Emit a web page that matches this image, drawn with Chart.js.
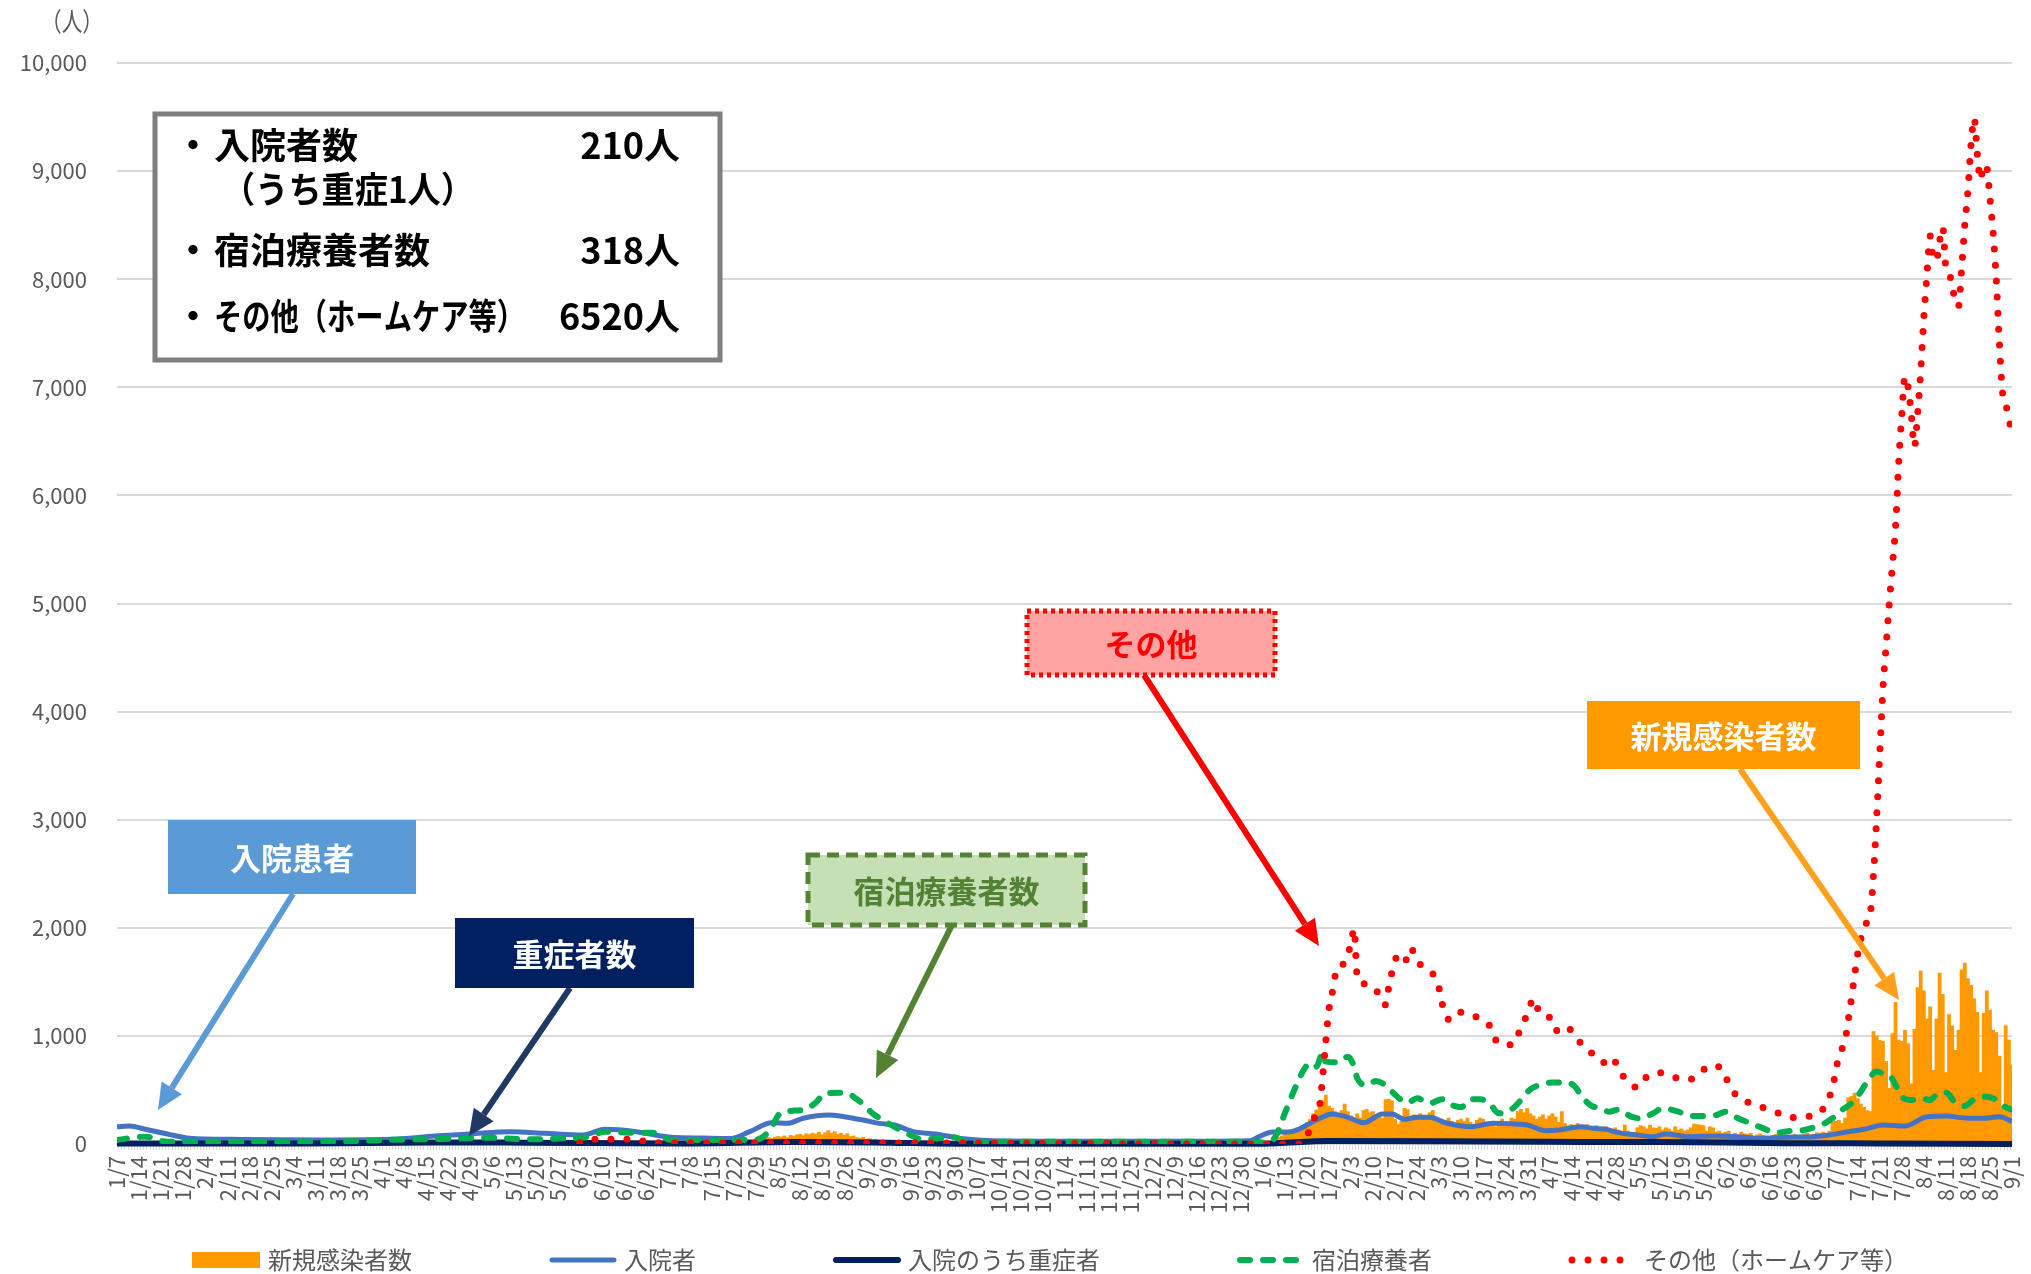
<!DOCTYPE html>
<html lang="ja">
<head>
<meta charset="utf-8">
<title>療養者数の推移</title>
<script src="https://cdn.jsdelivr.net/npm/chart.js@4.4.1/dist/chart.umd.min.js"></script>
<style>
  html, body { margin: 0; padding: 0; background: #fff; }
  #wrap { width: 2031px; height: 1274px; position: relative; }
</style>
</head>
<body>
<div id="wrap"><canvas id="chart"></canvas></div>
<script>
// 横軸の目盛りラベル（7日ごと、1/7 = 0日目）
const weekLabels = ['1/7','1/14','1/21','1/28','2/4','2/11','2/18','2/25','3/4','3/11','3/18','3/25',
  '4/1','4/8','4/15','4/22','4/29','5/6','5/13','5/20','5/27','6/3','6/10','6/17','6/24','7/1','7/8',
  '7/15','7/22','7/29','8/5','8/12','8/19','8/26','9/2','9/9','9/16','9/23','9/30','10/7','10/14',
  '10/21','10/28','11/4','11/11','11/18','11/25','12/2','12/9','12/16','12/23','12/30','1/6','1/13',
  '1/20','1/27','2/3','2/10','2/17','2/24','3/3','3/10','3/17','3/24','3/31','4/7','4/14','4/21',
  '4/28','5/5','5/12','5/19','5/26','6/2','6/9','6/16','6/23','6/30','7/7','7/14','7/21','7/28',
  '8/4','8/11','8/18','8/25','9/1'];

// 新規感染者数（日別の棒）
const casesJuneStart = 150;
const casesJune2020 = [8, 12, 15, 10, 8, 5, 10, 12];
const casesSummerStart = 195;
const casesSummer2020 = [10, 15, 20, 18, 25, 30, 28, 35, 40, 45, 38, 55, 60, 50, 62, 70, 65, 75, 60, 80,
  72, 85, 90, 78, 95, 88, 100, 92, 110, 85, 105, 124, 98, 115, 90, 100, 80, 95, 70, 75, 60, 55, 62, 45,
  50, 40, 42, 30, 25, 20, 15];
const cases2021Start = 364;
const cases2021 = [
  10, 15, 20, 25, 30, 60, 75,
  90, 110, 95, 130, 150, 120, 170,
  200, 230, 280, 315, 360, 400, 453,
  350, 330, 300, 270, 310, 370, 300,
  260, 230, 280, 240, 310, 320, 290,
  300, 250, 270, 240, 410, 415, 400,
  230, 180, 210, 330, 320, 260, 270,
  250, 280, 260, 230, 290, 310, 250,
  220, 230, 200, 240, 210, 190, 220,
  230, 210, 240, 200, 180, 220, 240,
  230, 180, 200, 210, 160, 190, 230,
  200, 170, 240, 230, 300, 320, 290,
  330, 280, 260, 230, 250, 270, 230,
  260, 280, 250, 200, 300, 190, 170,
  180, 160, 190, 170, 150, 180, 160,
  150, 170, 140, 130, 160, 140, 120,
  150, 130, 110, 176, 120, 100, 110,
  150, 170, 160, 140, 175, 150, 145,
  160, 130, 150, 140, 120, 160, 130,
  140, 120, 130, 150, 185, 180, 175,
  170, 120, 160, 150, 110, 120, 100,
  110, 120, 90, 100, 80, 110, 95,
  90, 100, 70, 85, 95, 80, 75,
  70, 80, 90, 65, 75, 85, 70,
  75, 90, 80, 70, 95, 100, 85,
  90, 105, 100, 110, 95, 120, 200,
  210, 220, 190, 240, 430, 440, 470,
  420, 370, 340, 310, 300, 1040, 1000,
  958, 950, 764, 516, 1020, 1310, 962,
  950, 1053, 929, 557, 1061, 1446, 1599,
  1417, 1157, 1268, 681, 1157, 1582, 1384,
  661, 1198, 1094, 867, 1053, 1611, 1673,
  1529, 1467, 1343, 1218, 661, 1210, 1417,
  1239, 1053, 1032, 813, 350, 1094, 962,
  731
];

// 入院者
const hospDays = [0, 4, 9, 16, 23, 37, 65, 87, 101, 112, 125, 136, 148, 155, 165, 176, 186, 195, 201, 208,
  213, 218, 226, 231, 237, 242, 247, 253, 260, 268, 278, 320, 360, 363, 367, 372, 375, 377, 381, 386,
  391, 396, 402, 405, 409, 413, 417, 422, 430, 437, 444, 448, 454, 458, 465, 469, 473, 477, 483, 488,
  492, 499, 507, 515, 522, 530, 539, 544, 550, 555, 561, 568, 575, 581, 588, 593, 598, 602];
const hospVals = [160, 166, 136, 93, 53, 43, 37, 43, 74, 93, 114, 99, 83, 136, 114, 62, 55, 52, 114, 197,
  191, 238, 268, 253, 222, 191, 176, 114, 93, 52, 31, 25, 31, 70, 112, 110, 130, 160, 222, 278,
  247, 197, 278, 278, 228, 247, 247, 197, 160, 191, 185, 176, 123, 130, 160, 145, 136, 105, 83, 68,
  93, 68, 74, 68, 53, 62, 68, 83, 114, 136, 176, 166, 253, 259, 238, 238, 253, 210];

// 入院のうち重症者
const severeDays = [0, 60, 100, 130, 180, 215, 240, 270, 364, 385, 420, 455, 490, 530, 560, 602];
const severeVals = [5, 5, 15, 12, 5, 18, 15, 3, 3, 28, 25, 20, 18, 8, 5, 1];

// 宿泊療養者
const hotelDays = [0, 9, 16, 60, 94, 108, 118, 131, 141, 149, 155, 163, 170, 176, 193, 203, 207, 211, 218, 222,
  225, 231, 236, 240, 245, 250, 256, 261, 266, 270, 300, 330, 362, 365, 368, 371, 374, 377, 379, 381,
  383, 384, 388, 391, 393, 394, 397, 400, 402, 405, 408, 410, 413, 417, 421, 424, 427, 430, 433, 436,
  439, 443, 446, 449, 452, 456, 460, 463, 465, 468, 471, 474, 477, 481, 484, 488, 491, 496, 500, 504,
  508, 511, 515, 519, 523, 527, 532, 536, 539, 542, 545, 548, 551, 554, 556, 559, 561, 563, 565, 567,
  570, 573, 576, 578, 581, 584, 587, 590, 594, 597, 600, 602];
const hotelVals = [37, 68, 21, 20, 43, 49, 58, 43, 52, 62, 114, 105, 105, 37, 37, 40, 114, 290, 315, 383,
  469, 475, 392, 284, 191, 114, 43, 52, 62, 21, 20, 20, 20, 10, 68, 284, 500, 685, 747, 716,
  840, 762, 756, 808, 716, 608, 546, 583, 562, 485, 407, 383, 423, 377, 414, 361, 340, 414, 414, 377,
  284, 321, 407, 506, 546, 568, 568, 537, 454, 361, 330, 299, 318, 253, 238, 284, 330, 299, 259, 259,
  268, 299, 238, 191, 145, 105, 123, 130, 154, 185, 238, 315, 377, 485, 577, 670, 654, 640, 546, 438,
  407, 423, 407, 454, 475, 383, 352, 414, 438, 407, 340, 318];

// その他（ホームケア等）
const homeDays = [147, 150, 158, 165, 170, 180, 250, 300, 364, 370, 376, 378, 380, 382, 383, 384, 385, 386, 387, 388,
  389, 390, 391, 392, 393, 394, 395, 397, 400, 402, 403, 404, 405, 406, 407, 408, 409, 411, 413, 416,
  418, 420, 421, 423, 425, 429, 432, 436, 438, 441, 444, 446, 448, 450, 452, 455, 457, 460, 462, 465,
  468, 472, 475, 477, 480, 483, 486, 490, 495, 499, 502, 506, 510, 512, 515, 519, 523, 528, 532, 537,
  541, 543, 545, 546, 547, 548, 549, 550, 551, 552, 553, 554, 555, 556, 557, 558, 559, 560, 561, 562,
  563, 564, 565, 566, 567, 568, 569, 570, 571, 572, 573, 574, 575, 576, 577, 578, 579, 580, 581, 582,
  583, 584, 585, 586, 587, 588, 589, 590, 591, 592, 593, 594, 595, 596, 597, 598, 599, 600, 601, 602];
const homeVals = [10, 45, 45, 40, 12, 10, 10, 5, 0, 0, 0, 74, 222, 346, 620, 944, 1240, 1390, 1560, 1636,
  1640, 1700, 1760, 1850, 1990, 1540, 1500, 1472, 1426, 1300, 1287, 1450, 1586, 1700, 1740, 1700, 1680, 1812, 1694, 1617,
  1574, 1441, 1296, 1154, 1219, 1210, 1173, 1096, 963, 917, 932, 1086, 1194, 1343, 1210, 1173, 1049, 1093, 1049, 932,
  855, 753, 802, 691, 577, 521, 623, 660, 614, 593, 630, 725, 694, 556, 432, 377, 336, 284, 244, 255,
  293, 376, 525, 670, 815, 880, 960, 1150, 1350, 1560, 1760, 1900, 1990, 2060, 2130, 2500, 3016, 3615, 4218, 4600,
  5000, 5350, 5700, 6300, 6750, 7100, 7000, 6750, 6450, 6750, 7150, 7650, 8050, 8400, 8180, 8180, 8350, 8480, 8100, 8050,
  7950, 7780, 7750, 8100, 8500, 8820, 9250, 9490, 9150, 8920, 9060, 9030, 8750, 8430, 8000, 7400, 6950, 6850, 6700, 6600];

// 左上の集計ボックス
const summaryRows = [
  { label: '入院者数', value: '210人', bullet: true },
  { label: '（うち重症1人）', value: '', bullet: false },
  { label: '宿泊療養者数', value: '318人', bullet: true },
  { label: 'その他（ホームケア等）', value: '6520人', bullet: true }
];

const FONT = '"Noto Sans CJK JP", "Noto Sans", sans-serif';
const GRAY = '#595959';

function toPoints(days, vals) {
    return days.map((d, i) => ({ x: d, y: vals[i] }));
}
function dailyPoints(start, vals) {
    return vals.map((v, i) => ({ x: start + i, y: v }));
}

const casesPoints = dailyPoints(casesJuneStart, casesJune2020)
    .concat(dailyPoints(casesSummerStart, casesSummer2020))
    .concat(dailyPoints(cases2021Start, cases2021));

// 吹き出し
const callouts = [
    { text: '入院患者', x: 168, y: 820, w: 248, h: 74, fill: '#5B9BD5', color: '#FFFFFF',
      arrow: [293, 894, 158, 1110], arrowColor: '#5B9BD5' },
    { text: '重症者数', x: 455, y: 918, w: 239, h: 70, fill: '#002060', color: '#FFFFFF',
      arrow: [570, 988, 469, 1136], arrowColor: '#1F3864' },
    { text: '宿泊療養者数', x: 808, y: 855, w: 277, h: 70, fill: '#C5E0B4', color: '#548235',
      border: '#548235', dash: [12, 7], arrow: [952, 925, 876, 1078], arrowColor: '#548235' },
    { text: 'その他', x: 1027, y: 611, w: 248, h: 64, fill: '#FFA3A3', color: '#FF0000',
      border: '#FF0000', dash: [4, 4], arrow: [1144, 675, 1319, 946], arrowColor: '#FF0000' },
    { text: '新規感染者数', x: 1587, y: 701, w: 273, h: 68, fill: '#FF9900', color: '#FFFFFF',
      arrow: [1740, 769, 1899, 1000], arrowColor: '#FFA01C' }
];

function drawArrow(ctx, x1, y1, x2, y2, color, width) {
    const ang = Math.atan2(y2 - y1, x2 - x1);
    const head = 26, half = 12;
    const bx = x2 - head * Math.cos(ang);
    const by = y2 - head * Math.sin(ang);
    ctx.setLineDash([]);
    ctx.strokeStyle = color;
    ctx.lineWidth = width;
    ctx.beginPath();
    ctx.moveTo(x1, y1);
    ctx.lineTo(bx, by);
    ctx.stroke();
    ctx.fillStyle = color;
    ctx.beginPath();
    ctx.moveTo(x2, y2);
    ctx.lineTo(bx + half * Math.sin(ang), by - half * Math.cos(ang));
    ctx.lineTo(bx - half * Math.sin(ang), by + half * Math.cos(ang));
    ctx.closePath();
    ctx.fill();
}

function drawLegendSymbol(ctx, ds, x, y) {
    ctx.save();
    if (ds.type === 'bar') {
        ctx.fillStyle = ds.backgroundColor;
        ctx.fillRect(x, y - 8, 68, 16);
    } else {
        ctx.strokeStyle = ds.borderColor;
        ctx.lineWidth = ds.borderWidth;
        ctx.lineCap = 'round';
        ctx.setLineDash(ds.borderDash || []);
        ctx.beginPath();
        ctx.moveTo(x + 4, y);
        ctx.lineTo(x + 66, y);
        ctx.stroke();
    }
    ctx.restore();
}

const overlayPlugin = {
    id: 'overlay',
    afterDraw(chart) {
        const ctx = chart.ctx;
        ctx.save();

        // 単位
        ctx.fillStyle = GRAY;
        ctx.font = '26px ' + FONT;
        ctx.textAlign = 'center';
        ctx.textBaseline = 'middle';
        ctx.fillText('（人）', 72, 21, 62);

        // 集計ボックス
        ctx.fillStyle = '#FFFFFF';
        ctx.fillRect(155, 114, 565, 246);
        ctx.strokeStyle = '#7F7F7F';
        ctx.lineWidth = 5;
        ctx.strokeRect(155, 114, 565, 246);
        const rowY = [145, 189, 250, 316];
        ctx.fillStyle = '#000000';
        ctx.font = 'bold 36px ' + FONT;
        summaryRows.forEach((row, i) => {
            if (row.bullet) {
                ctx.textAlign = 'center';
                ctx.fillText('・', 193, rowY[i]);
            }
            ctx.textAlign = 'left';
            if (row.bullet) {
                ctx.fillText(row.label, 214, rowY[i], i === 3 ? 311 : 330);
            } else {
                ctx.fillText(row.label, 222, rowY[i], 252);
            }
            if (row.value) {
                ctx.textAlign = 'right';
                ctx.fillText(row.value, 680, rowY[i]);
            }
        });

        // 吹き出しの矢印と箱
        callouts.forEach(c => {
            const a = c.arrow;
            drawArrow(ctx, a[0], a[1], a[2], a[3], c.arrowColor, 6);
        });
        callouts.forEach(c => {
            ctx.setLineDash([]);
            ctx.fillStyle = c.fill;
            ctx.fillRect(c.x, c.y, c.w, c.h);
            if (c.border) {
                ctx.strokeStyle = c.border;
                ctx.lineWidth = 5;
                ctx.setLineDash(c.dash);
                ctx.strokeRect(c.x, c.y, c.w, c.h);
                ctx.setLineDash([]);
            }
            ctx.fillStyle = c.color;
            ctx.font = 'bold 31px ' + FONT;
            ctx.textAlign = 'center';
            ctx.textBaseline = 'middle';
            ctx.fillText(c.text, c.x + c.w / 2, c.y + c.h / 2 + 1);
        });

        // 凡例
        ctx.font = '24px ' + FONT;
        ctx.textAlign = 'left';
        ctx.textBaseline = 'middle';
        let lx = 192;
        const ly = 1260;
        chart.data.datasets.forEach(ds => {
            drawLegendSymbol(ctx, ds, lx, ly);
            ctx.fillStyle = GRAY;
            ctx.fillText(ds.label, lx + 76, ly);
            lx += 76 + ctx.measureText(ds.label).width + 136;
        });

        ctx.restore();
    }
};

new Chart(document.getElementById('chart'), {
    type: 'bar',
    data: {
        datasets: [
            {
                type: 'bar',
                label: '新規感染者数',
                data: casesPoints,
                backgroundColor: '#FF9900',
                barPercentage: 1,
                categoryPercentage: 1,
                order: 5
            },
            {
                type: 'line',
                label: '入院者',
                data: toPoints(hospDays, hospVals),
                borderColor: '#4472C4',
                borderWidth: 5,
                pointRadius: 0,
                cubicInterpolationMode: 'monotone',
                order: 4
            },
            {
                type: 'line',
                label: '入院のうち重症者',
                data: toPoints(severeDays, severeVals),
                borderColor: '#002060',
                borderWidth: 6,
                pointRadius: 0,
                cubicInterpolationMode: 'monotone',
                clip: false,
                order: 3
            },
            {
                type: 'line',
                label: '宿泊療養者',
                data: toPoints(hotelDays, hotelVals),
                borderColor: '#00B050',
                borderWidth: 6,
                borderDash: [10, 13],
                borderCapStyle: 'round',
                pointRadius: 0,
                cubicInterpolationMode: 'monotone',
                order: 2
            },
            {
                type: 'line',
                label: 'その他（ホームケア等）',
                data: toPoints(homeDays, homeVals),
                borderColor: '#FF0000',
                borderWidth: 7,
                borderDash: [0, 16],
                borderCapStyle: 'round',
                pointRadius: 0,
                cubicInterpolationMode: 'monotone',
                order: 1
            }
        ]
    },
    options: {
        responsive: true,
        maintainAspectRatio: false,
        animation: false,
        layout: { padding: { top: 63, right: 19, bottom: 0, left: 0 } },
        plugins: {
            legend: { display: false },
            tooltip: { enabled: false }
        },
        scales: {
            x: {
                type: 'linear',
                min: 0,
                max: 602,
                offset: false,
                grid: { display: true, drawOnChartArea: false, drawTicks: true, tickLength: 6, color: '#D9D9D9' },
                border: { display: true, color: '#D9D9D9', width: 2 },
                ticks: {
                    stepSize: 1,
                    autoSkip: false,
                    minRotation: 90,
                    maxRotation: 90,
                    padding: 6,
                    color: GRAY,
                    font: { family: FONT, size: 22 },
                    callback: (v) => (v % 7 === 0 ? weekLabels[v / 7] : '')
                },
                afterFit: (scale) => {
                    scale.height = 130;
                    scale.paddingLeft = 0;
                    scale.paddingRight = 0;
                }
            },
            y: {
                min: 0,
                max: 10000,
                grid: { color: '#D9D9D9', lineWidth: 2, drawTicks: false },
                border: { display: false },
                ticks: {
                    stepSize: 1000,
                    padding: 30,
                    color: GRAY,
                    font: { family: FONT, size: 22 },
                    callback: (v) => v.toLocaleString('en-US')
                },
                afterFit: (scale) => { scale.width = 117; }
            }
        }
    },
    plugins: [overlayPlugin]
});
</script>
</body>
</html>
